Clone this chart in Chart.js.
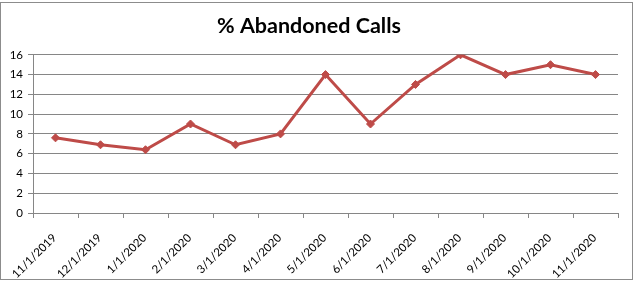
<!DOCTYPE html>
<html>
<head>
<meta charset="utf-8">
<script src="https://cdn.jsdelivr.net/npm/chart.js@4/dist/chart.umd.min.js"></script>
<style>
  html,body{margin:0;padding:0;background:#fff;}
  #wrap{position:relative;width:636px;height:282px;}
</style>
</head>
<body>
<div id="wrap"><canvas id="c" width="636" height="282"></canvas></div>
<script>
const categories = ["11/1/2019","12/1/2019","1/1/2020","2/1/2020","3/1/2020","4/1/2020","5/1/2020","6/1/2020","7/1/2020","8/1/2020","9/1/2020","10/1/2020","11/1/2020"];
const abandonedPct = [7.6, 6.9, 6.4, 9, 6.9, 8, 14, 9, 13, 16, 14, 15, 14];
const yTicks = [0, 2, 4, 6, 8, 10, 12, 14, 16];
const chartTitle = "% Abandoned Calls";

const framePlugin = {
  id: 'frame',
  beforeDraw(chart) {
    const ctx = chart.ctx;
    ctx.save();
    ctx.fillStyle = '#ffffff';
    ctx.fillRect(0, 0, chart.width, chart.height);
    ctx.strokeStyle = '#8c8c8c';
    ctx.lineWidth = 1;
    ctx.strokeRect(0.5, 2.5, 632, 277);
    ctx.restore();
  }
};

new Chart(document.getElementById('c'), {
  type: 'line',
  data: {
    labels: categories,
    datasets: [{
      data: abandonedPct,
      borderColor: '#BE4B48',
      backgroundColor: '#BE4B48',
      borderWidth: 3,
      pointStyle: 'rectRot',
      pointRadius: 4,
      pointBorderWidth: 1,
      tension: 0,
      fill: false
    }]
  },
  options: {
    responsive: false,
    animation: false,
    devicePixelRatio: 1,
    layout: { padding: { left: 0, right: 18, top: 0, bottom: 0 } },
    plugins: {
      legend: { display: false },
      tooltip: { enabled: false },
      title: {
        display: true,
        text: chartTitle,
        color: '#000',
        font: { family: 'Lato', size: 21.5, weight: 'bold', lineHeight: 1.2 },
        padding: { top: 13, bottom: 16 }
      }
    },
    scales: {
      x: {
        offset: true,
        grid: { display: true, drawOnChartArea: false, drawTicks: true, tickLength: 5, color: '#868686', offset: true },
        border: { color: '#868686', width: 1 },
        ticks: { color: '#000', font: { family: 'Lato', size: 11.5 }, minRotation: 45, maxRotation: 45, padding: 13, labelOffset: -1, autoSkip: false },
        afterFit(s) { s.height = 69; }
      },
      y: {
        min: 0, max: 16,
        afterBuildTicks(s) { s.ticks = yTicks.map(v => ({ value: v })); },
        grid: { color: '#868686', lineWidth: 1, drawTicks: true, tickLength: 5 },
        border: { color: '#868686', width: 1 },
        ticks: { color: '#000', font: { family: 'Lato', size: 11.5 }, padding: 5 },
        afterFit(s) { s.width = 33; }
      }
    }
  },
  plugins: [framePlugin]
});
</script>
</body>
</html>
